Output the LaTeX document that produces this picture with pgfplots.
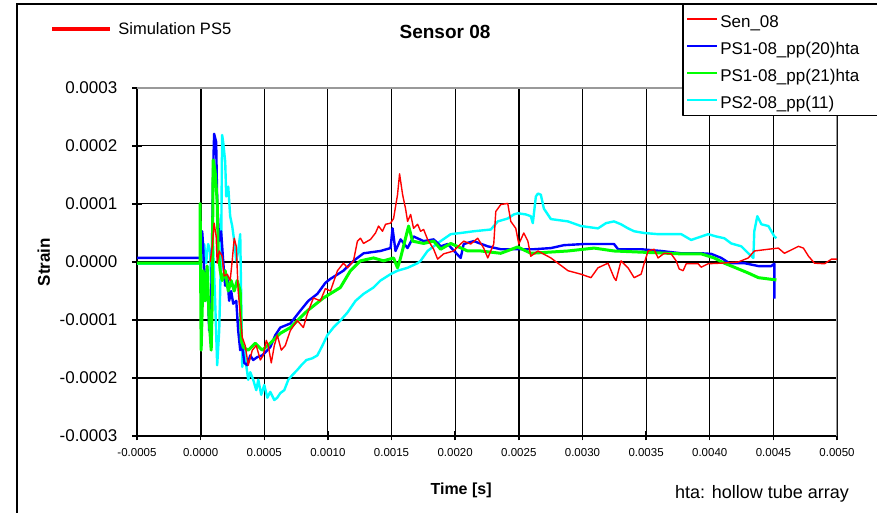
\documentclass[border=0pt]{standalone}
\usepackage{fontspec}
\setmainfont{Liberation Sans}
\usepackage{pgfplots}
\usepackage{pgfplotstable}
\pgfplotsset{compat=1.18}

\definecolor{sred}{RGB}{255,0,0}
\definecolor{sblue}{RGB}{0,0,255}
\definecolor{sgreen}{RGB}{0,255,0}
\definecolor{scyan}{RGB}{0,255,255}

% t: time in units of 1e-4 s, e: strain in units of 1e-4
\pgfplotstableread{
t e
0.75 0.00
0.91 0.27
1.06 0.67
1.22 0.44
1.30 -0.02
1.46 0.19
1.69 0.10
1.85 -0.24
2.09 -0.21
2.32 -0.32
2.48 0.02
2.64 0.41
2.80 0.27
2.95 -0.50
3.11 -0.89
3.27 -1.30
3.50 -1.44
3.74 -1.78
4.06 -1.52
4.37 -1.44
4.69 -1.69
4.92 -1.61
5.16 -1.35
5.31 -1.44
5.55 -1.74
5.79 -1.44
6.02 -1.26
6.34 -1.52
6.65 -1.44
7.05 -1.18
7.60 -1.01
8.07 -1.13
8.39 -0.89
8.86 -0.62
9.41 -0.67
9.80 -0.46
10.20 -0.50
10.75 -0.15
11.22 -0.02
11.54 -0.10
12.01 0.02
12.32 0.36
12.56 0.41
12.80 0.32
13.35 0.39
13.74 0.50
13.98 0.62
14.29 0.53
14.53 0.65
14.92 0.67
15.16 0.75
15.47 1.16
15.63 1.52
15.87 1.16
16.10 0.92
16.26 0.70
16.50 0.82
16.73 0.58
17.05 0.65
17.28 0.53
17.52 0.56
17.83 0.39
18.31 0.22
18.62 0.05
19.09 0.14
19.88 0.19
20.43 0.31
20.67 0.36
21.22 0.31
21.77 0.41
22.24 0.24
22.56 0.07
23.03 0.31
23.19 0.87
23.58 0.99
24.13 1.01
24.37 0.70
24.76 0.58
25.00 0.31
25.39 0.50
25.71 0.36
25.94 0.10
26.50 0.19
27.52 0.07
28.86 -0.15
29.88 -0.21
30.67 -0.27
31.22 -0.10
32.01 -0.02
32.48 -0.27
32.64 -0.32
33.03 0.02
33.58 -0.10
34.06 -0.27
34.61 -0.21
34.84 -0.03
35.16 0.19
35.63 0.22
35.94 0.07
36.42 0.15
36.97 0.14
37.36 0.02
37.60 -0.12
37.91 -0.15
38.15 -0.03
39.09 -0.03
39.33 -0.09
39.88 -0.03
40.91 -0.02
42.24 0.00
43.03 0.07
43.50 0.19
44.61 0.22
45.39 0.24
45.87 0.15
46.97 0.27
47.36 0.24
47.76 0.10
48.23 -0.02
49.02 -0.03
49.57 0.05
50.00 0.05
}\senzeroeight

\pgfplotstableread{
t e
-5 0.07
-0.04 0.07
0.12 0.53
0.20 0.27
0.35 -0.67
0.51 -0.07
0.67 -1.18
0.83 -0.67
0.98 1.56
1.06 2.21
1.22 2.07
1.30 1.04
1.46 0.36
1.61 0.53
1.77 0.02
1.93 -0.41
2.09 -0.24
2.24 -0.67
2.40 -0.50
2.56 -0.72
2.80 -0.67
2.95 -1.18
3.11 -1.52
3.27 -1.44
3.43 -1.74
3.66 -1.78
3.90 -1.61
4.13 -1.69
4.45 -1.64
4.84 -1.61
5.47 -1.47
5.87 -1.26
6.26 -1.13
7.05 -1.06
7.83 -0.84
8.46 -0.67
9.17 -0.55
9.80 -0.36
10.20 -0.29
11.22 -0.15
12.01 0.02
12.80 0.15
14.13 0.19
14.92 0.24
15.08 0.58
15.31 0.19
15.71 0.39
16.26 0.24
16.73 0.44
17.52 0.36
18.31 0.39
18.86 0.27
19.41 0.31
20.43 0.07
20.67 0.31
21.46 0.36
22.56 0.27
23.58 0.22
26.18 0.22
27.52 0.24
28.54 0.29
30.12 0.31
32.48 0.31
32.80 0.22
34.61 0.22
36.18 0.19
37.76 0.15
39.33 0.15
40.12 0.14
40.91 0.07
41.54 -0.02
42.72 -0.02
43.82 -0.07
44.84 -0.07
45.08 -0.03
45.08 -0.63
}\psonetwenty

\pgfplotstableread{
t e
-5 -0.02
-0.04 -0.02
-0.04 1.01
0.04 -1.52
0.20 -0.15
0.35 -0.67
0.51 -0.07
0.67 -1.01
0.83 -1.52
0.91 -0.67
0.98 1.76
1.14 1.56
1.30 1.04
1.38 0.19
1.54 -0.15
1.69 -0.32
1.93 -0.15
2.17 -0.50
2.40 -0.32
2.64 -0.50
2.87 -0.32
3.11 -0.50
3.19 -1.35
3.35 -1.47
3.74 -1.52
4.29 -1.40
4.84 -1.52
5.47 -1.40
6.26 -1.23
7.05 -1.13
8.39 -0.84
9.65 -0.62
10.98 -0.44
11.77 -0.15
12.56 0.02
13.58 0.07
14.37 0.02
15.16 0.07
15.47 -0.10
15.71 0.07
16.34 0.62
16.65 0.36
17.52 0.32
18.31 0.36
18.86 0.22
19.65 0.32
20.98 0.19
22.01 0.19
23.58 0.15
24.92 0.26
25.94 0.15
28.86 0.19
30.91 0.24
32.48 0.19
37.76 0.14
39.33 0.14
40.35 0.07
41.14 -0.02
41.93 -0.09
43.03 -0.19
43.82 -0.27
45.24 -0.31
}\psonetwentyone

\pgfplotstableread{
t e
-5 -0.03
-0.04 -0.03
0.12 0.10
0.28 0.31
0.43 -0.02
0.59 0.31
0.75 0.19
0.83 -0.50
0.98 0.27
1.14 -0.67
1.30 -1.78
1.46 -1.18
1.61 0.19
1.69 2.19
1.77 2.07
1.93 1.73
2.01 1.13
2.17 1.30
2.32 0.79
2.48 0.62
2.64 0.36
2.80 0.02
2.95 0.19
3.11 0.48
3.19 -0.67
3.27 -1.81
3.43 -1.44
3.58 -1.78
3.74 -2.03
3.90 -1.90
4.13 -2.03
4.37 -2.21
4.53 -2.03
4.76 -2.29
5.00 -2.12
5.24 -2.34
5.47 -2.24
5.79 -2.38
6.02 -2.34
6.26 -2.26
6.57 -2.21
6.89 -2.03
7.20 -1.95
7.60 -1.86
7.91 -1.78
8.31 -1.69
8.78 -1.66
9.17 -1.61
9.57 -1.44
9.96 -1.26
10.43 -1.13
10.98 -1.01
11.54 -0.87
12.17 -0.67
12.80 -0.55
13.58 -0.44
14.13 -0.32
14.92 -0.21
15.47 -0.15
16.26 -0.10
17.05 -0.02
17.28 0.02
17.83 0.19
18.31 0.27
18.86 0.36
19.65 0.48
20.43 0.50
21.46 0.53
22.80 0.56
23.35 0.70
24.13 0.75
24.61 0.82
24.92 0.84
25.55 0.82
25.94 0.79
26.10 0.67
26.34 1.13
26.50 1.18
26.73 1.16
26.97 0.92
27.52 0.74
28.86 0.70
29.88 0.62
31.22 0.58
31.85 0.67
32.48 0.70
33.03 0.65
33.58 0.58
34.06 0.53
34.84 0.50
35.94 0.48
37.76 0.48
38.54 0.38
39.88 0.48
40.51 0.44
41.14 0.41
41.69 0.32
42.48 0.27
43.03 0.15
43.43 0.07
43.50 0.53
43.74 0.79
44.06 0.65
44.61 0.62
45.08 0.44
45.24 0.41
}\pstwoeleven

\newcommand\legtext[1]{\makebox[190bp][l]{#1}}

\begin{document}
\begin{tikzpicture}
\useasboundingbox (0bp,0bp) rectangle (877bp,513bp);
\fill[white] (0bp,0bp) rectangle (877bp,513bp);
% outer chart frame
\draw[black, line width=2bp] (17bp,-10bp) -- (17bp,509bp) -- (900bp,509bp);

\begin{axis}[
  at={(137bp,77bp)}, anchor=south west,
  scale only axis, width=700bp, height=348bp,
  xmin=-5, xmax=50, ymin=-3, ymax=3,
  xtick={-5,0,...,50},
  xticklabels={-0.0005,0.0000,0.0005,0.0010,0.0015,0.0020,0.0025,0.0030,0.0035,0.0040,0.0045,0.0050},
  ytick={-3,...,3},
  yticklabels={-0.0003,-0.0002,-0.0001,0.0000,0.0001,0.0002,0.0003},
  axis x line*=bottom, axis y line*=left,
  axis line style={-, black, line width=2bp},
  tick align=center, major tick length=9bp,
  tick style={black, line width=1.5bp},
  grid=major, major grid style={black, line width=1bp},
  xticklabel style={font=\fontsize{11.5bp}{13bp}\selectfont, anchor=center, yshift=-12bp},
  yticklabel style={font=\fontsize{17bp}{20bp}\selectfont, anchor=east, inner sep=0pt, xshift=-15bp},
  title={Sensor 08},
  title style={at={(axis description cs:0.44,1.144)}, anchor=center,
    font=\bfseries\fontsize{19bp}{22bp}\selectfont},
  xlabel={Time [s]},
  xlabel style={at={(axis description cs:0.463,-0.155)}, anchor=center,
    font=\bfseries\fontsize{16bp}{19bp}\selectfont},
  ylabel={Strain},
  ylabel style={at={(axis description cs:-0.133,0.5)}, anchor=center, rotate=0,
    font=\bfseries\fontsize{17bp}{20bp}\selectfont},
  legend style={at={(axis description cs:0.779,1.244)}, anchor=north west,
    draw=black, line width=1.6bp, fill=white,
    font=\fontsize{17bp}{20bp}\selectfont,
    inner xsep=3bp, inner ysep=5bp, row sep=6.5bp,
    nodes={text height=18bp, text depth=0.5bp, inner ysep=1bp}},
  legend cell align=left,
  legend image code/.code={\draw[#1] (0bp,0bp) -- (30bp,0bp);},
  line join=round,
]
% heavier grid lines and the grey plot-area border
\draw[black, line width=2bp] (axis cs:0,-3) -- (axis cs:0,3);
\draw[black, line width=2bp] (axis cs:25,-3) -- (axis cs:25,3);
\draw[black, line width=2bp] (axis cs:-5,0) -- (axis cs:50,0);
\draw[black, line width=1.8bp] (axis cs:-5,-1) -- (axis cs:50,-1);
\draw[black, line width=1.8bp] (axis cs:-5,-2) -- (axis cs:50,-2);
\draw[gray!80, line width=1.4bp] (rel axis cs:0,1) -- (rel axis cs:1,1) -- (rel axis cs:1,0);

\addlegendimage{sred, line width=2bp}
\addlegendentry{\legtext{Sen\_08}}
\addlegendimage{sblue, line width=2.2bp}
\addlegendentry{\legtext{PS1-08\_pp(20)hta}}
\addlegendimage{sgreen, line width=2.2bp}
\addlegendentry{\legtext{PS1-08\_pp(21)hta}}
\addlegendimage{scyan, line width=2.2bp}
\addlegendentry{\legtext{PS2-08\_pp(11)}}

\addplot[scyan, line width=2.4bp, forget plot] table[x=t, y=e] {\pstwoeleven};
\addplot[sblue, line width=2.4bp, forget plot] table[x=t, y=e] {\psonetwenty};
\addplot[sgreen, line width=3bp, forget plot] table[x=t, y=e] {\psonetwentyone};
\addplot[sred, line width=1.4bp, forget plot] table[x=t, y=e] {\senzeroeight};
\end{axis}

% separate legend for the simulation key
\begin{axis}[
  at={(137bp,77bp)}, anchor=south west,
  scale only axis, width=700bp, height=348bp,
  xmin=-5, xmax=50, ymin=-3, ymax=3, hide axis,
  legend style={at={(axis description cs:-0.124,1.17)}, anchor=west,
    draw=none, fill=none, inner sep=0pt,
    nodes={inner xsep=6bp},
    font=\fontsize{16.5bp}{19bp}\selectfont},
  legend image code/.code={\draw[#1] (0bp,0bp) -- (58bp,0bp);},
]
\addlegendimage{sred, line width=4bp}
\addlegendentry{Simulation PS5}
\end{axis}

\node[font=\fontsize{18bp}{21bp}\selectfont] at (762bp,19bp) {hta: hollow tube array};
\end{tikzpicture}
\end{document}
